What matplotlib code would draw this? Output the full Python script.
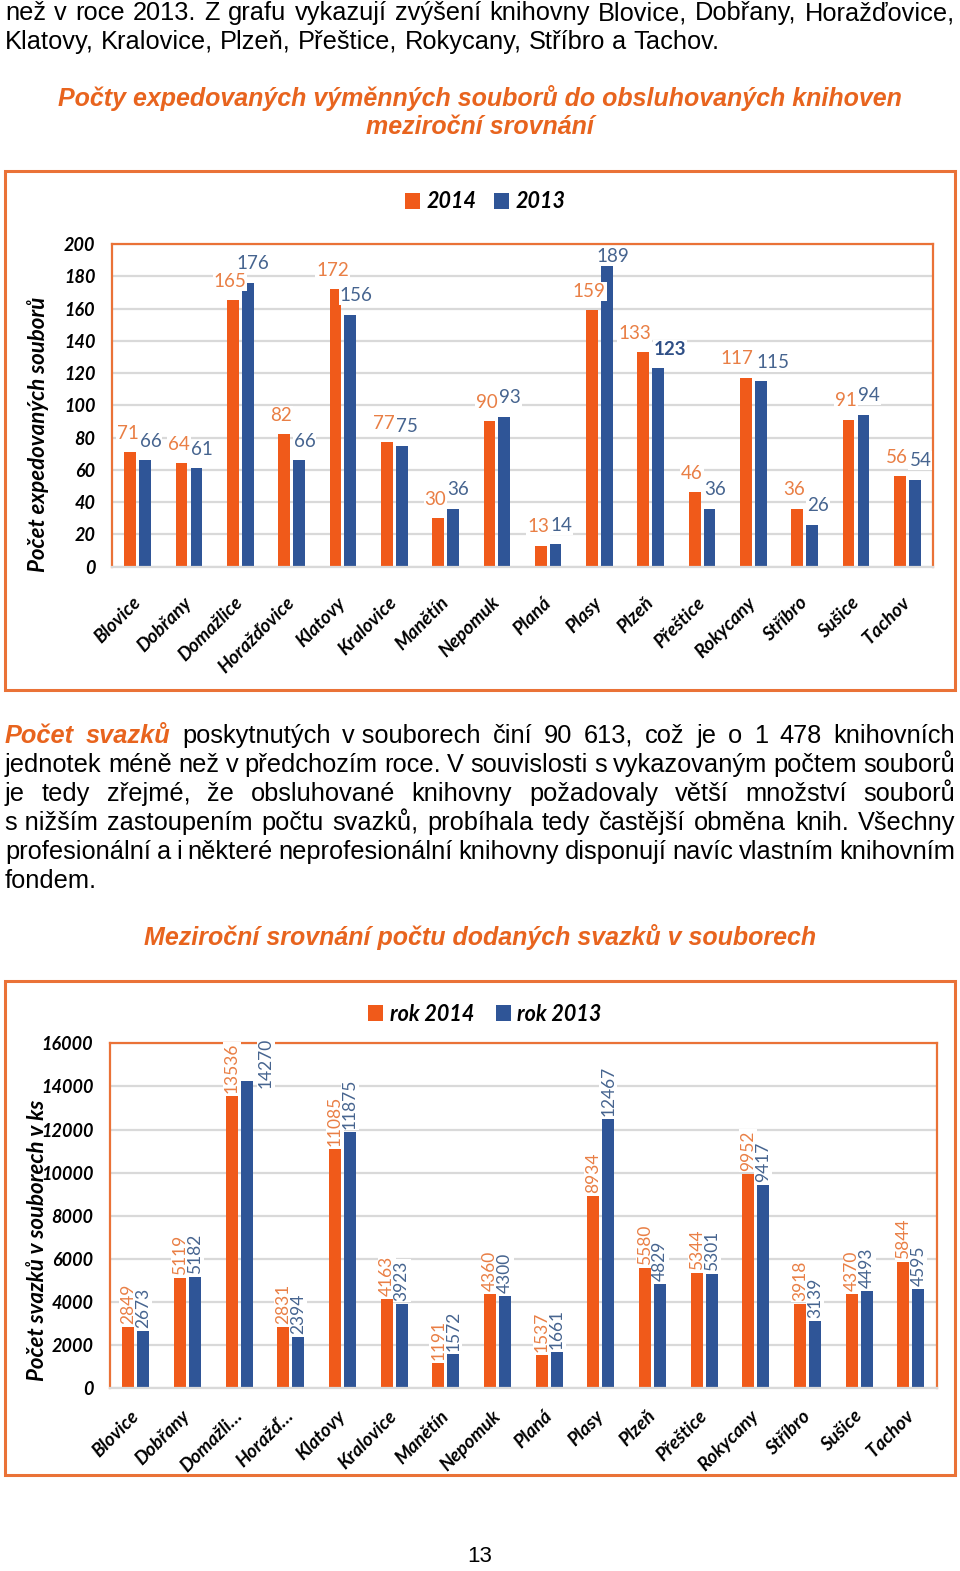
import matplotlib
matplotlib.use('Agg')
import matplotlib.pyplot as plt
import matplotlib.patches as patches
from matplotlib.transforms import ScaledTranslation
import numpy as np

W, H = 960, 1571
ORANGE = '#F05A1A'
BLUE = '#2F5597'
FRAME = '#EA7237'
TITLE_ORANGE = '#E8641E'
LABEL_ORANGE = '#E97F45'
LABEL_BLUE = '#46648F'
GRID = '#D9D9D9'
CHART_FONT = ['Lato', 'DejaVu Sans']
TEXT_FONT = ['Liberation Sans', 'DejaVu Sans']

# --- data ---
libraries = ['Blovice', 'Dobřany', 'Domažlice', 'Horažďovice', 'Klatovy', 'Kralovice',
             'Manětín', 'Nepomuk', 'Planá', 'Plasy', 'Plzeň', 'Přeštice', 'Rokycany',
             'Stříbro', 'Sušice', 'Tachov']
libraries_short = ['Blovice', 'Dobřany', 'Domažli…', 'Horažď…', 'Klatovy', 'Kralovice',
                   'Manětín', 'Nepomuk', 'Planá', 'Plasy', 'Plzeň', 'Přeštice', 'Rokycany',
                   'Stříbro', 'Sušice', 'Tachov']
sets_2014 = [71, 64, 165, 82, 172, 77, 30, 90, 13, 159, 133, 46, 117, 36, 91, 56]
sets_2013 = [66, 61, 176, 66, 156, 75, 36, 93, 14, 189, 123, 36, 115, 26, 94, 54]
volumes_2014 = [2849, 5119, 13536, 2831, 11085, 4163, 1191, 4360, 1537, 8934, 5580,
                5344, 9952, 3918, 4370, 5844]
volumes_2013 = [2673, 5182, 14270, 2394, 11875, 3923, 1572, 4300, 1661, 12467, 4829,
                5301, 9417, 3139, 4493, 4595]
bold_label_2013 = ['Plzeň']
set_ticks = list(range(0, 201, 20))
volume_ticks = list(range(0, 16001, 2000))

intro_lines = [
    'než v roce 2013. Z grafu vykazují zvýšení knihovny Blovice, Dobřany, Horažďovice,',
    'Klatovy, Kralovice, Plzeň, Přeštice, Rokycany, Stříbro a Tachov.',
]
para_lines = [
    '*Počet *svazků poskytnutých v\u00a0souborech činí 90 613, což je o 1 478 knihovních',
    'jednotek méně než v předchozím roce. V souvislosti s vykazovaným počtem souborů',
    'je tedy zřejmé, že obsluhované knihovny požadovaly větší množství souborů',
    's\u00a0nižším zastoupením počtu svazků, probíhala tedy častější obměna knih. Všechny',
    'profesionální a i některé neprofesionální knihovny disponují navíc vlastním knihovním',
    'fondem.',
]

fig = plt.figure(figsize=(W / 100, H / 100), dpi=100)
renderer = fig.canvas.get_renderer()


def fx(px):
    return px / W


def fy(py):
    return 1 - py / H


def nudge(t, dx_px, dy_px=0):
    t.set_transform(t.get_transform() + ScaledTranslation(dx_px / 100, dy_px / 100,
                                                          fig.dpi_scale_trans))


def axes_at(left, top, right, bottom):
    return fig.add_axes([fx(left), fy(bottom), (right - left) / W, (bottom - top) / H])


def frame(left, top, right, bottom):
    fig.patches.append(patches.Rectangle((fx(left), fy(bottom)), (right - left) / W,
                                         (bottom - top) / H, transform=fig.transFigure,
                                         fill=False, edgecolor=FRAME, linewidth=2.2))


def text_line(line, y, size=18.3, justify=True, left=5, right=955):
    items = []
    for w in line.split(' '):
        if w.startswith('*'):
            kw = dict(color=TITLE_ORANGE, fontweight='bold', fontstyle='italic')
            w = w[1:]
        else:
            kw = dict(color='black')
        items.append(fig.text(0, fy(y), w.replace('\u00a0', ' '), fontsize=size,
                              family=TEXT_FONT, ha='left', va='baseline', **kw))
    widths = [t.get_window_extent(renderer).width for t in items]
    if justify and len(items) > 1:
        gap = (right - left - sum(widths)) / (len(items) - 1)
    else:
        gap = size * 100 / 72 * 0.278
    x = left
    for t, w in zip(items, widths):
        t.set_x(fx(x))
        x += w + gap


# --- running text (y = baseline in px) ---
text_line(intro_lines[0], 20)
text_line(intro_lines[1], 49, justify=False)
for i, line in enumerate(para_lines):
    text_line(line, 743 + 29 * i, justify=(i < len(para_lines) - 1))

head = dict(fontsize=18, fontweight='bold', fontstyle='italic', color=TITLE_ORANGE,
            family=TEXT_FONT, ha='center', va='center')
fig.text(fx(480), fy(98), 'Počty expedovaných výměnných souborů do obsluhovaných knihoven', **head)
fig.text(fx(480), fy(127), 'meziroční srovnání', **head)
fig.text(fx(480), fy(937), 'Meziroční srovnání počtu dodaných svazků v souborech', **head)
fig.text(fx(480), fy(1556), '13', fontsize=16, family=TEXT_FONT, ha='center', va='center')


def style_axes(ax, ticks, names, xpad):
    ax.set_xlim(-0.5, len(names) - 0.5)
    ax.set_ylim(ticks[0], ticks[-1])
    ax.set_yticks(ticks)
    ax.set_yticklabels([str(t) for t in ticks], fontsize=13, fontweight='bold',
                       fontstyle='italic', family=CHART_FONT)
    ax.set_xticks(np.arange(len(names)))
    ax.set_xticklabels(names, rotation=45, ha='right', rotation_mode='anchor',
                       fontsize=13.5, fontweight='bold', fontstyle='italic',
                       family=CHART_FONT, va='center')
    for lab in ax.get_xticklabels():
        nudge(lab, 5)
    ax.tick_params(axis='y', length=0, pad=12)
    ax.tick_params(axis='x', length=0, pad=xpad)
    ax.grid(axis='y', color=GRID, linewidth=1.6)
    ax.set_axisbelow(True)
    for s in ('left', 'top', 'right'):
        ax.spines[s].set_color(FRAME)
        ax.spines[s].set_linewidth(1.6)
    ax.spines['bottom'].set_color(GRID)
    ax.spines['bottom'].set_linewidth(1.6)


x = np.arange(len(libraries))
off, bw = 0.145, 0.23
label_box = dict(boxstyle='square,pad=0.05', fc='white', ec='none')
leg_font = dict(family=CHART_FONT, weight='bold', style='italic', size=15.5)
ylab = dict(rotation=90, ha='center', va='center', fontsize=16, fontweight='bold',
            fontstyle='italic', family=CHART_FONT)

# --- chart 1 ---
frame(5, 171, 955, 690)
ax1 = axes_at(112, 244, 933, 566.7)
ax1.bar(x - off, sets_2014, bw, color=ORANGE, label='2014')
ax1.bar(x + off, sets_2013, bw, color=BLUE, label='2013')
style_axes(ax1, set_ticks, libraries, 24)
top = set_ticks[-1]
pairs = []
for name, xi, v14, v13 in zip(libraries, x, sets_2014, sets_2013):
    pair = []
    for xb, v, col, dx, is13 in ((xi - off, v14, LABEL_ORANGE, -2, False),
                                 (xi + off, v13, LABEL_BLUE, 4, True)):
        bold = is13 and name in bold_label_2013
        t = ax1.text(xb, min(v + 11.8, top - 7.5), str(v), ha='center', va='center',
                     fontsize=13.5, color='#2F4F86' if bold else col,
                     fontweight='bold' if bold else 'normal', family=CHART_FONT,
                     bbox=label_box)
        nudge(t, dx * 100 / 72)
        pair.append(t)
    pairs.append(pair)
# push colliding label pairs apart, like the spreadsheet does
for o, b in pairs:
    bo, bb = o.get_window_extent(renderer), b.get_window_extent(renderer)
    if bo.overlaps(bb):
        d = bo.x1 - bb.x0 + 3
        nudge(o, -d / 2)
        nudge(b, d / 2)

ax1.legend(loc='center', bbox_to_anchor=(fx(485), fy(202)), bbox_transform=fig.transFigure,
           ncol=2, frameon=False, prop=leg_font, handlelength=0.7, handleheight=0.7,
           handletextpad=0.3, columnspacing=0.8)
fig.text(fx(38), fy(434), 'Počet expedovaných souborů', **ylab)

# --- chart 2 ---
frame(5, 981, 955, 1475)
ax2 = axes_at(110, 1043.3, 936.7, 1388.3)
ax2.bar(x - off, volumes_2014, bw, color=ORANGE, label='rok 2014')
ax2.bar(x + off, volumes_2013, bw, color=BLUE, label='rok 2013')
style_axes(ax2, volume_ticks, libraries_short, 18)
vtop = volume_ticks[-1]
units_per_px = vtop / 345
for xs, vals, col in ((x - off, volumes_2014, LABEL_ORANGE), (x + off, volumes_2013, LABEL_BLUE)):
    for xi, v in zip(xs, vals):
        s = str(v)
        if v + (len(s) * 9.8 + 4) * units_per_px > vtop:
            t = ax2.text(xi, vtop, s, rotation=90, ha='center', va='top', fontsize=12.5,
                         color=col, family=CHART_FONT, bbox=label_box, clip_on=False)
            nudge(t, 19, 6)
        else:
            t = ax2.text(xi, v, s, rotation=90, ha='center', va='bottom', fontsize=12.5,
                         color=col, family=CHART_FONT, bbox=label_box)
            nudge(t, 0, 3)
ax2.legend(loc='center', bbox_to_anchor=(fx(485), fy(1014)), bbox_transform=fig.transFigure,
           ncol=2, frameon=False, prop=leg_font, handlelength=0.7, handleheight=0.7,
           handletextpad=0.3, columnspacing=1.0)
fig.text(fx(38), fy(1240), 'Počet svazků v souborech v ks', **ylab)

fig.savefig('out.png', dpi=100)
